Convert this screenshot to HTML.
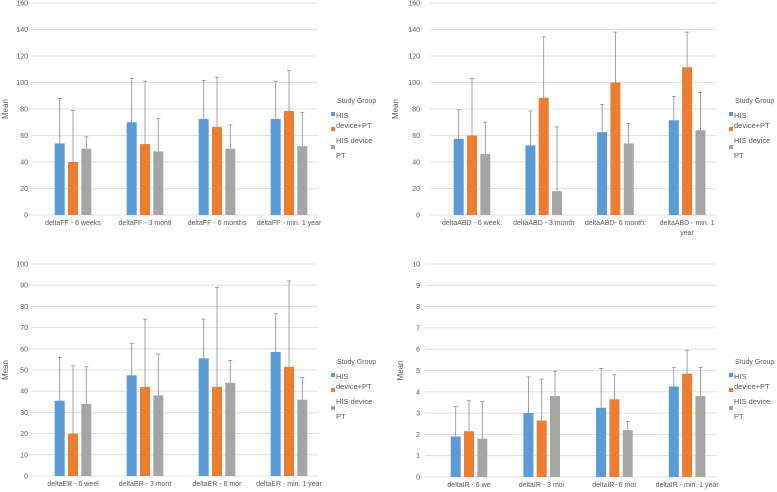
<!DOCTYPE html>
<html><head><meta charset="utf-8"><style>
body{margin:0;background:#fff;}
svg{display:block;font-family:"Liberation Sans",sans-serif;}
</style></head><body>
<svg id="c" width="777" height="492" viewBox="0 0 777 492"></svg>
<script>
const seriesNames = ["HIS device+PT","HIS device","PT"];
const ffCats = ["deltaFF - 6 weeks","deltaFF - 3 montl","deltaFF - 6 months","deltaFF - min. 1 year"];
const ffBlue = [54,70,72.5,72.5], ffBlueErr = [88,103,101.5,101];
const ffOrange = [40,53.5,66.5,78.5], ffOrangeErr = [79,101,104,109];
const ffGray = [50,48,50,52], ffGrayErr = [59,73,68,77.5];
const ffTicks = [0,20,40,60,80,100,120,140,160];

const abdCats = ["deltaABD - 6 week:","deltaABD - 3 month","deltaABD- 6 month:","deltaABD - min. 1|year"];
const abdBlue = [57.5,52.5,62.5,71.5], abdBlueErr = [79.5,78.5,83.5,89.5];
const abdOrange = [60,88.5,100,111.5], abdOrangeErr = [103,134.5,138,138];
const abdGray = [46,18,54,64], abdGrayErr = [70,66.5,69,92.5];
const abdTicks = [0,20,40,60,80,100,120,140,160];

const erCats = ["deltaER - 6 weel","deltaER - 3 mont","deltaER - 6 mor","deltaER - min. 1 year"];
const erBlue = [35.5,47.5,55.5,58.5], erBlueErr = [56,62.5,74,76.5];
const erOrange = [20,42,42,51.5], erOrangeErr = [52,74,89,92];
const erGray = [34,38,44,36], erGrayErr = [51.5,57.5,54.5,46.5];
const erTicks = [0,10,20,30,40,50,60,70,80,90,100];

const irCats = ["deltaIR - 6 we","deltaIR - 3 moı","deltaIR- 6 mor","deltaIR - min. 1 year"];
const irBlue = [1.9,3.0,3.25,4.25], irBlueErr = [3.3,4.7,5.1,5.15];
const irOrange = [2.15,2.65,3.65,4.85], irOrangeErr = [3.6,4.6,4.8,5.95];
const irGray = [1.8,3.8,2.2,3.8], irGrayErr = [3.55,4.95,2.6,5.15];
const irTicks = [0,1,2,3,4,5,6,7,8,9,10];

const NS="http://www.w3.org/2000/svg";
const svg=document.getElementById('c');
const colors=["#5b9bd5","#ed7d31","#a5a5a5"];
function mk(tag,attrs,parent){const e=document.createElementNS(NS,tag);for(const k in attrs)e.setAttribute(k,attrs[k]);(parent||svg).appendChild(e);return e;}

function panel(name,cfg,cats,vals,errs,ticks){
  const g=mk('g',{});
  
  
  const max=ticks[ticks.length-1];
  const y=v=>cfg.y0-(v/max)*(cfg.y0-cfg.yTop);
  const band=cfg.band;
  const cx=i=>cfg.c0+i*band;
  ticks.forEach(t=>{
    const l=mk('line',{x1:cfg.gx0,x2:cfg.gx1,y1:y(t),y2:y(t),stroke:'#d9d9d9','stroke-width':0.8},g);
    
    
    const tx=mk('text',{x:cfg.lx,y:y(t)+2.5,'text-anchor':'end','font-size':7,fill:'#595959'},g);
    tx.textContent=t;
    
    
  });
  const yt=mk('text',{x:0,y:0,transform:`translate(${cfg.tx},${(cfg.y0+cfg.yTop)/2}) rotate(-90)`,'text-anchor':'middle','font-size':8,fill:'#595959'},g);
  yt.textContent='Mean';
  
  
  cats.forEach((c,i)=>{
    const parts=c.split('|');
    parts.forEach((p,k)=>{
      const t=mk('text',{x:cx(i),y:cfg.y0+10+k*10,'text-anchor':'middle','font-size':7,fill:'#595959'},g);
      t.textContent=p;
      
      
    });
    for(let s=0;s<3;s++){
      const bx=cx(i)+(s-1)*13.3-5;
      const v=vals[s][i],e=errs[s][i];
      const ex=bx+5;
      const el=mk('line',{x1:ex,x2:ex,y1:y(e),y2:y(v),stroke:'#8c8c8c','stroke-width':0.8},g);
      
      
      const cap=mk('line',{x1:ex-2,x2:ex+2,y1:y(e),y2:y(e),stroke:'#8c8c8c','stroke-width':0.8},g);
      
      
      const r=mk('rect',{x:bx,y:y(v),width:10,height:y(0)-y(v),fill:colors[s]},g);
      
      
      const el2=mk('line',{x1:ex,x2:ex,y1:y(v),y2:y(v)+ (y(0)-y(v)>0? 0:0),stroke:'#8c8c8c'},g);
    }
  });
  // legend
  const lg=mk('g',{},g);
  
  
  const L=cfg.legX, T=cfg.legY;
  const ttl=mk('text',{x:L+6,y:T,'font-size':7,fill:'#595959'},lg);
  ttl.textContent='Study Group';
  
  
  const items=[["HIS",T+15],["device+PT",T+25],["HIS device",T+40],["PT",T+55]];
  items.forEach(([t,yy])=>{
    const tx=mk('text',{x:L+5,y:yy,'font-size':7.5,fill:'#595959'},lg);
    tx.textContent=t;
    
    
  });
  [[T+12],[T+27],[T+45]].forEach(([yy],s)=>{
    const sq=mk('rect',{x:L,y:yy-3,width:4,height:4,fill:colors[s]},lg);
    
    
  });
}
panel('ff',{y0:215,yTop:3,gx0:31,gx1:318,c0:73,band:72,lx:28,tx:8,legX:331,legY:103},ffCats,[ffBlue,ffOrange,ffGray],[ffBlueErr,ffOrangeErr,ffGrayErr],ffTicks);
panel('abd',{y0:215,yTop:3,gx0:430,gx1:716,c0:472,band:71.7,lx:420,tx:398,legX:729,legY:103},abdCats,[abdBlue,abdOrange,abdGray],[abdBlueErr,abdOrangeErr,abdGrayErr],abdTicks);
panel('er',{y0:476,yTop:264,gx0:31,gx1:318,c0:73,band:72,lx:28,tx:8,legX:331,legY:364},erCats,[erBlue,erOrange,erGray],[erBlueErr,erOrangeErr,erGrayErr],erTicks);
panel('ir',{y0:477,yTop:264,gx0:425,gx1:717,c0:469,band:72.7,lx:420,tx:403,legX:729,legY:364},irCats,[irBlue,irOrange,irGray],[irBlueErr,irOrangeErr,irGrayErr],irTicks);
</script>
</body></html>
